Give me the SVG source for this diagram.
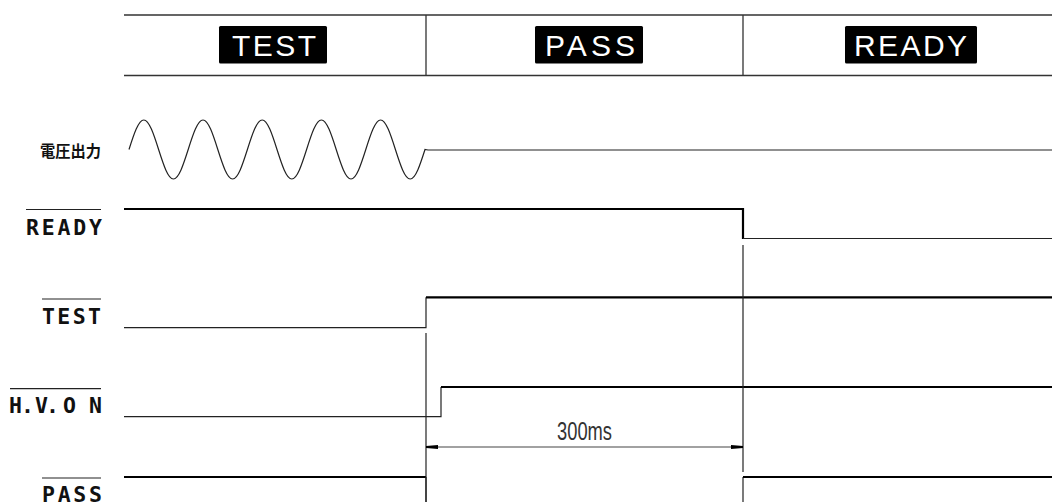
<svg xmlns="http://www.w3.org/2000/svg" width="1052" height="502" viewBox="0 0 1052 502">
<style>
  .thin{fill:none;stroke:#222;stroke-width:1.2}
  .thick{fill:none;stroke:#000;stroke-width:2.2}
  .hdrline{fill:none;stroke:#333;stroke-width:1.3}
  .box{fill:#000}
  .boxtxt{font-family:"Liberation Sans",Arial,sans-serif;font-size:30px;fill:#fff}
  .lbl{font-family:"DejaVu Sans Mono","Liberation Mono",monospace;font-size:21.5px;font-weight:bold;fill:#111}
  .ovl{fill:none;stroke:#222;stroke-width:1.2}
  .dimtxt{font-family:"Liberation Sans",Arial,sans-serif;font-size:25px;fill:#333}
</style>
<defs>
  <marker id="arr" viewBox="0 0 12 6" refX="12" refY="3" markerWidth="12" markerHeight="6" markerUnits="userSpaceOnUse" orient="auto-start-reverse">
    <path d="M0,1 L12,2 L12,4 L0,5 Z" fill="#000"/>
  </marker>
</defs>
<rect width="1052" height="502" fill="#fff"/>

<g id="header">
  <path class="hdrline" d="M124,15 H1052 M124,75.5 H1052 M426,15 V75.5 M743,15 V75.5"/>
</g>
<g id="hdr-test">
  <rect class="box" x="219" y="26" width="108" height="37.5" rx="1.5"/>
  <text class="boxtxt" x="232" y="56" textLength="84" lengthAdjust="spacing">TEST</text>
</g>
<g id="hdr-pass">
  <rect class="box" x="535" y="26" width="108" height="37.5" rx="1.5"/>
  <text class="boxtxt" x="545" y="56" textLength="90" lengthAdjust="spacing">PASS</text>
</g>
<g id="hdr-ready">
  <rect class="box" x="845" y="26" width="132" height="37.5" rx="1.5"/>
  <text class="boxtxt" x="854" y="56" textLength="113" lengthAdjust="spacing">READY</text>
</g>

<g id="sig-voltage">
  <text x="40" y="157" font-family="'Noto Sans CJK JP','Noto Sans CJK SC',sans-serif" font-size="16" font-weight="bold" fill="#111" textLength="61" lengthAdjust="spacingAndGlyphs">電圧出力</text>
  <path class="thin" d="M129,149.5
    c4.827,-15.11 9.444,-29.5 14.8,-29.5 c5.356,0 9.973,14.39 14.8,29.5 c4.827,15.11 9.444,29.5 14.8,29.5 c5.356,0 9.973,-14.39 14.8,-29.5
    c4.827,-15.11 9.444,-29.5 14.8,-29.5 c5.356,0 9.973,14.39 14.8,29.5 c4.827,15.11 9.444,29.5 14.8,29.5 c5.356,0 9.973,-14.39 14.8,-29.5
    c4.827,-15.11 9.444,-29.5 14.8,-29.5 c5.356,0 9.973,14.39 14.8,29.5 c4.827,15.11 9.444,29.5 14.8,29.5 c5.356,0 9.973,-14.39 14.8,-29.5
    c4.827,-15.11 9.444,-29.5 14.8,-29.5 c5.356,0 9.973,14.39 14.8,29.5 c4.827,15.11 9.444,29.5 14.8,29.5 c5.356,0 9.973,-14.39 14.8,-29.5
    c4.827,-15.11 9.444,-29.5 14.8,-29.5 c5.356,0 9.973,14.39 14.8,29.5 c4.827,15.11 9.444,29.5 14.8,29.5 c5.356,0 9.973,-14.39 14.8,-29.5
    L428,150 H1052"/>
</g>

<g id="sig-ready">
  <path class="ovl" d="M26,209.5 H101"/>
  <text class="lbl" x="26" y="235" textLength="76" lengthAdjust="spacing">READY</text>
  <path class="thick" d="M124,209 H743 V239"/>
  <path class="thin" d="M743,238.5 H1052"/>
</g>

<g id="sig-test">
  <path class="ovl" d="M42,299 H101"/>
  <text class="lbl" x="42" y="324" textLength="59" lengthAdjust="spacing">TEST</text>
  <path class="thin" d="M124,327.7 H426 V297.3"/>
  <path class="thick" d="M426,297.3 H1052"/>
</g>

<g id="sig-hvon">
  <path class="ovl" d="M10,388.7 H101"/>
  <text class="lbl" x="9 21 29 35 46 53 63 89" y="413">H. V. ON</text>
  <path class="thin" d="M124,416.7 H441 V387"/>
  <path class="thick" d="M441,387 H1052"/>
</g>

<g id="sig-pass">
  <path class="ovl" d="M42,478 H101"/>
  <text class="lbl" x="42" y="502" textLength="60" lengthAdjust="spacing">PASS</text>
  <path class="thick" d="M124,477 H426"/>
  <path class="thin" d="M426,477 V502"/>
  <path class="thin" d="M743,502 V477"/>
  <path class="thick" d="M743,477 H1052"/>
</g>

<g id="connectors">
  <path class="thin" d="M426,333 V502"/>
  <path class="thin" d="M743,245 V472"/>
  <path fill="none" stroke="#444" stroke-width="1.2" d="M426,447 H743" marker-start="url(#arr)" marker-end="url(#arr)"/>
  <text class="dimtxt" x="557" y="440" textLength="55" lengthAdjust="spacingAndGlyphs">300ms</text>
</g>
</svg>
